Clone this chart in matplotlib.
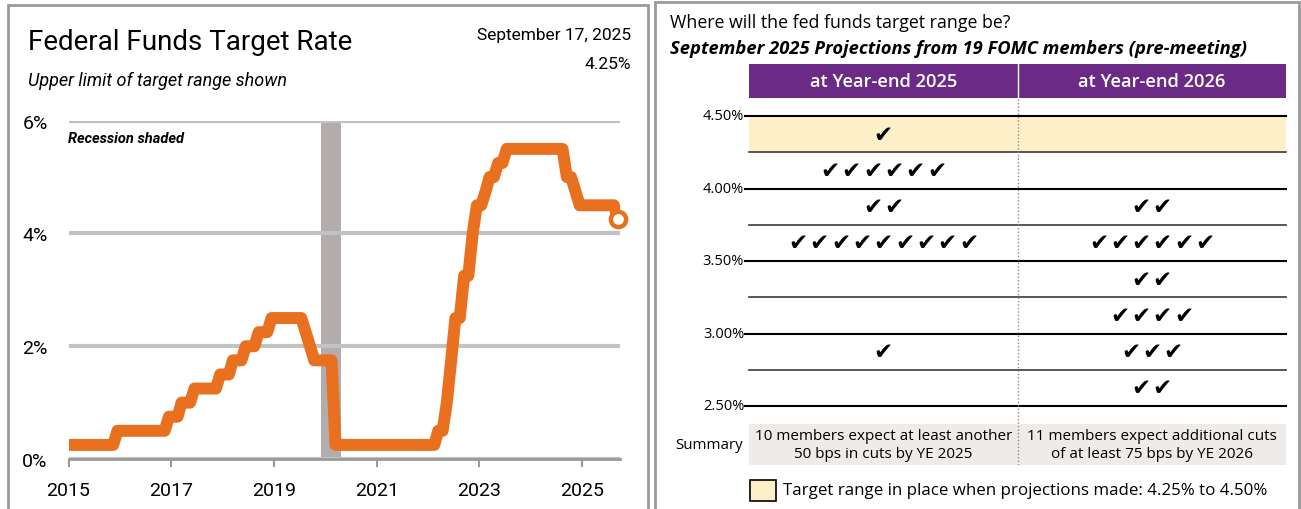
import numpy as np
import pandas as pd
import matplotlib.pyplot as plt
from matplotlib.patches import Rectangle

# fed funds target, upper limit of range, month-end values Jan 2015 - Sep 2025
rates = [
    0.25, 0.25, 0.25, 0.25, 0.25, 0.25, 0.25, 0.25, 0.25, 0.25, 0.25, 0.50,  # 2015
    0.50, 0.50, 0.50, 0.50, 0.50, 0.50, 0.50, 0.50, 0.50, 0.50, 0.50, 0.75,  # 2016
    0.75, 0.75, 1.00, 1.00, 1.00, 1.25, 1.25, 1.25, 1.25, 1.25, 1.25, 1.50,  # 2017
    1.50, 1.50, 1.75, 1.75, 1.75, 2.00, 2.00, 2.00, 2.25, 2.25, 2.25, 2.50,  # 2018
    2.50, 2.50, 2.50, 2.50, 2.50, 2.50, 2.50, 2.25, 2.00, 1.75, 1.75, 1.75,  # 2019
    1.75, 1.75, 0.25, 0.25, 0.25, 0.25, 0.25, 0.25, 0.25, 0.25, 0.25, 0.25,  # 2020
    0.25, 0.25, 0.25, 0.25, 0.25, 0.25, 0.25, 0.25, 0.25, 0.25, 0.25, 0.25,  # 2021
    0.25, 0.25, 0.50, 0.50, 1.00, 1.75, 2.50, 2.50, 3.25, 3.25, 4.00, 4.50,  # 2022
    4.50, 4.75, 5.00, 5.00, 5.25, 5.25, 5.50, 5.50, 5.50, 5.50, 5.50, 5.50,  # 2023
    5.50, 5.50, 5.50, 5.50, 5.50, 5.50, 5.50, 5.50, 5.00, 5.00, 4.75, 4.50,  # 2024
    4.50, 4.50, 4.50, 4.50, 4.50, 4.50, 4.50, 4.50, 4.25,                    # 2025
]
recession = ("2019-12-01", "2020-04-20")
year_ticks = [2015, 2017, 2019, 2021, 2023, 2025]
pct_ticks = [0, 2, 4, 6]

# FOMC dot plot, September 2025: checks per 25bp bucket (top to bottom)
bucket_mid = [4.375, 4.125, 3.875, 3.625, 3.375, 3.125, 2.875, 2.625]
ye2025 = [1, 6, 2, 9, 0, 0, 1, 0]
ye2026 = [0, 0, 2, 6, 2, 4, 3, 2]
row_lines = [4.50, 4.25, 4.00, 3.75, 3.50, 3.25, 3.00, 2.75, 2.50]
row_labels = [2.50, 3.00, 3.50, 4.00, 4.50]
headers = ["at Year-end 2025", "at Year-end 2026"]
summaries = ["10 members expect at least another\n50 bps in cuts by YE 2025",
             "11 members expect additional cuts\nof at least 75 bps by YE 2026"]

orange = "#E8701E"
purple = "#6A2A86"
cream = "#FDF0C9"
narrow = ["Roboto", "DejaVu Sans"]
plt.rcParams["font.family"] = ["Open Sans", "DejaVu Sans"]

W, H = 1301, 510
fig = plt.figure(figsize=(W / 100, H / 100), dpi=100)

def fx(px):
    return px / W

def fy(py):
    return 1 - py / H

# panel borders (open at the bottom edge of the image)
fig.add_artist(Rectangle((fx(8), fy(530)), fx(640), 524 / H,
                         transform=fig.transFigure, fill=False, ec="#9A9A9A", lw=2))
fig.add_artist(Rectangle((fx(655), fy(530)), fx(644), 527 / H,
                         transform=fig.transFigure, fill=False, ec="#9A9A9A", lw=2))

# ---------------- left: line chart ----------------
ax = fig.add_axes([fx(68.5), fy(460), fx(620 - 68.5), (460 - 121.7) / H])
months = pd.date_range("2015-01-01", periods=len(rates), freq="MS") + pd.Timedelta(days=14)
ax.axvspan(pd.Timestamp(recession[0]), pd.Timestamp(recession[1]), color="#B2ACAC", lw=0, zorder=1)
ax.plot(months, rates, color=orange, lw=8.6, zorder=3, solid_joinstyle="round")
ax.plot(months[-1:], rates[-1:], "o", ms=11, mfc="white", mec=orange, mew=3.2, zorder=4,
        clip_on=False)

ax.set_xlim(pd.Timestamp("2015-01-01"), pd.Timestamp("2025-09-28"))
ax.set_ylim(0, 6)
ax.set_yticks(pct_ticks)
ax.set_yticklabels([f"{v}%" for v in pct_ticks], family=narrow, fontsize=14)
ax.set_xticks([pd.Timestamp(f"{y}-01-01") for y in year_ticks])
ax.set_xticklabels([str(y) for y in year_ticks], family=narrow, fontsize=14)
ax.tick_params(axis="y", length=0, pad=15)
ax.tick_params(axis="x", length=6, width=1.5, color="#9A9A9A", pad=10)
ax.grid(axis="y", color="#C2C2C2", lw=3, zorder=0)
for s in ["top", "right", "left"]:
    ax.spines[s].set_visible(False)
ax.spines["bottom"].set_color("#9A9A9A")
ax.spines["bottom"].set_linewidth(2)
ax.spines["bottom"].set_zorder(2)
ax.text(0.0, 0.95, "Recession shaded", transform=ax.transAxes, family=narrow,
        fontsize=10.5, fontweight="bold", style="italic", va="center")

fig.text(fx(28), fy(50), "Federal Funds Target Rate", family=narrow, fontsize=20, va="baseline")
fig.text(fx(28), fy(86), "Upper limit of target range shown", family=narrow, fontsize=13,
         style="italic", va="baseline")
fig.text(fx(631), fy(40), "September 17, 2025", family=narrow, fontsize=12.5, ha="right", va="baseline")
fig.text(fx(631), fy(69), "4.25%", family=narrow, fontsize=12.5, ha="right", va="baseline")

# ---------------- right: projections table ----------------
top_rate = 4.5 + (117 - 65) / 145
bot_rate = 2.5 - (466 - 407) / 145
head_bot = 4.5 + (117 - 99) / 145
sum_top = 2.5 - (425 - 407) / 145
tx = fig.add_axes([fx(749), fy(466), fx(1286 - 749), (466 - 65) / H])
tx.set_xlim(0, 2)
tx.set_ylim(bot_rate, top_rate)
tx.axis("off")

tx.axhspan(4.25, 4.50, color=cream, lw=0, zorder=0)
tx.axhspan(head_bot, top_rate, color=purple, lw=0, zorder=1)
tx.axhspan(bot_rate, sum_top, color="#EEEBE8", lw=0, zorder=0)
for r in row_lines:
    major = r in row_labels
    tx.plot([-0.015 if major else 0, 2], [r, r], color="black" if major else "#3A3A3A",
            lw=1.5 if major else 1.2, clip_on=False, zorder=2)
for r in row_labels:
    tx.text(-0.018, r, f"{r:.2f}%", ha="right", va="center", fontsize=10.5)
tx.plot([1, 1], [bot_rate, head_bot], color="#8A8A8A", lw=1, ls=(0, (1, 1.5)), zorder=3)
tx.plot([1, 1], [head_bot, top_rate], color="white", lw=1, zorder=3)

for col, h in enumerate(headers):
    tx.text(col + 0.5, (head_bot + top_rate) / 2, h, color="white", fontsize=13.2,
            fontweight="semibold", ha="center", va="center", zorder=4)
spacing = 21.3 / 268.5
for col, counts in enumerate([ye2025, ye2026]):
    for mid, n in zip(bucket_mid, counts):
        for k in range(n):
            tx.text(col + 0.5 + (k - (n - 1) / 2) * spacing, mid, "\u2714",
                    family="DejaVu Sans", fontsize=16.5, ha="center", va="center", zorder=4)
    tx.text(col + 0.5, (bot_rate + sum_top) / 2, summaries[col], ha="center", va="center",
            fontsize=11, linespacing=1.25, zorder=4)
tx.text(-0.023, (bot_rate + sum_top) / 2, "Summary", ha="right", va="center", fontsize=10.8)

fig.add_artist(Rectangle((fx(750), fy(502)), fx(26), 21 / H, transform=fig.transFigure,
                         fc=cream, ec="black", lw=1.2))
fig.text(fx(783), fy(491), "Target range in place when projections made: 4.25% to 4.50%",
         fontsize=12.2, va="center")

fig.text(fx(670), fy(28), "Where will the fed funds target range be?", fontsize=12.8, va="baseline")
fig.text(fx(670), fy(54), "September 2025 Projections from 19 FOMC members (pre-meeting)",
         fontsize=13.2, fontweight="bold", style="italic", va="baseline")

fig.savefig("out.png", dpi=100)
